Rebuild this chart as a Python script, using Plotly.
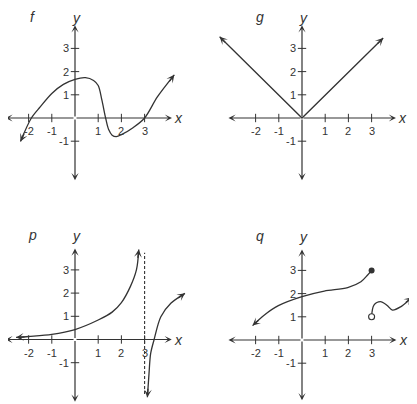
import math
import plotly.graph_objects as go

PAGE_W, PAGE_H = 417, 404
BODY = 8                      # default page margin around the figure div
W, H = PAGE_W - BODY, PAGE_H - BODY
UNIT = 23.2                   # pixels per data unit (both axes)
INK = "#333333"
FONT = "Liberation Sans, Arial, Helvetica, sans-serif"

# ---------------- data ----------------
f_x = [-2.35, -1.88, -1.5, -1.0, -0.5, 0.0, 0.45, 0.8, 1.0, 1.16, 1.32, 1.45, 1.6, 1.78, 2.0, 2.5, 3.0, 3.55, 4.28]
f_y = [-1.01, 0.0, 0.48, 1.06, 1.45, 1.67, 1.74, 1.62, 1.40, 0.77, 0.0, -0.5, -0.74, -0.8, -0.72, -0.42, 0.0, 0.91, 1.86]

g_x = [-3.55, 0.0, 3.5]
g_y = [3.5, 0.0, 3.45]

p_left_x = [-2.54, -2.0, -1.0, 0.0, 1.0, 1.6, 2.0, 2.39, 2.65, 2.75]
p_left_y = [0.09, 0.13, 0.22, 0.43, 0.84, 1.18, 1.59, 2.29, 3.01, 3.88]
p_right_x = [3.12, 3.19, 3.26, 3.41, 3.70, 4.13, 4.74]
p_right_y = [-2.49, -1.47, -0.61, 0.0, 0.98, 1.56, 1.99]
p_asym_x = [3.0, 3.0]
p_asym_y = [-2.35, 3.74]

q_left_x = [-2.13, -1.62, -1.02, 0.0, 0.96, 1.97, 2.54, 2.83, 3.0]
q_left_y = [0.62, 1.08, 1.48, 1.87, 2.11, 2.26, 2.51, 2.8, 3.0]
q_right_x = [3.0, 3.1, 3.38, 3.66, 3.9, 4.25, 4.74]
q_right_y = [1.0, 1.5, 1.65, 1.5, 1.29, 1.43, 1.84]
q_closed_x, q_closed_y = [3.0], [3.0]
q_open_x, q_open_y = [3.0], [1.0]

x_ticks = [-2, -1, 1, 2, 3]
x_tick_labels = ["-2", "-1", "1", "2", "3"]
y_ticks = [-1, 1, 2, 3]
y_tick_labels = ["-1", "1", "2", "3"]

panel_names = ["f", "g", "p", "q"]
# axis arrow extents (data units) per panel: x min, x max, y min, y max
axis_ext = [(-3.0, 4.18, -2.68, 4.0),
            (-3.17, 4.05, -2.68, 4.0),
            (-3.0, 4.17, -2.68, 3.92),
            (-3.17, 4.07, -2.60, 3.90)]
# height of panel letter / y-axis name (data units)
title_y = [4.36, 4.36, 4.5, 4.5]

# ---------------- layout geometry (page pixels) ----------------
boxes = [(0, 207, 0, 200), (207, 417, 0, 200), (0, 207, 200, 404), (207, 417, 200, 404)]
origins = [(75, 118), (302, 118), (75, 339.5), (302, 340)]

fig = go.Figure()
annotations = []
layout = dict(width=W, height=H, margin=dict(l=0, r=0, t=0, b=0, pad=0),
              paper_bgcolor="white", plot_bgcolor="white", showlegend=False)


def arrow_ann(xr, yr, tip_x, tip_y, from_x, from_y, length=10):
    dx, dy = tip_x - from_x, tip_y - from_y
    n = math.hypot(dx, dy)
    return dict(xref=xr, yref=yr, x=tip_x, y=tip_y,
                ax=-dx / n * length, ay=dy / n * length,
                showarrow=True, arrowhead=3, arrowsize=1.0, arrowwidth=1.3,
                arrowcolor=INK, text="", standoff=0)


def data_arrow(xr, yr, tip_x, tip_y, tail_x, tail_y):
    return dict(xref=xr, yref=yr, x=tip_x, y=tip_y, axref=xr, ayref=yr,
                ax=tail_x, ay=tail_y, showarrow=True, arrowhead=3,
                arrowsize=1.0, arrowwidth=1.2, arrowcolor=INK, text="", standoff=0)


for i in range(4):
    sfx = "" if i == 0 else str(i + 1)
    xr, yr = "x" + sfx, "y" + sfx
    l, r, t, b = boxes[i]
    l, r = max(l - BODY, 0), min(r - BODY, W)
    t, b = max(t - BODY, 0), min(b - BODY, H)
    ox, oy = origins[i][0] - BODY, origins[i][1] - BODY
    layout["xaxis" + sfx] = dict(domain=[l / W, r / W], range=[(l - ox) / UNIT, (r - ox) / UNIT],
                                 visible=False, fixedrange=True, anchor=yr)
    layout["yaxis" + sfx] = dict(domain=[1 - b / H, 1 - t / H], range=[(oy - b) / UNIT, (oy - t) / UNIT],
                                 visible=False, fixedrange=True, anchor=xr)

    x0, x1, y0, y1 = axis_ext[i]
    for tx, ty in [(x1, 0), (x0, 0), (0, y1), (0, y0)]:
        annotations.append(data_arrow(xr, yr, tx, ty, 0, 0))

    fig.add_trace(go.Scatter(x=x_ticks, y=[0] * len(x_ticks), mode="markers", xaxis=xr, yaxis=yr,
                             marker=dict(symbol="line-ns", size=6, line=dict(width=1, color=INK)),
                             hoverinfo="skip"))
    fig.add_trace(go.Scatter(x=[0] * len(y_ticks), y=y_ticks, mode="markers", xaxis=xr, yaxis=yr,
                             marker=dict(symbol="line-ew", size=6, line=dict(width=1, color=INK)),
                             hoverinfo="skip"))
    for v, s in zip(x_ticks, x_tick_labels):
        annotations.append(dict(xref=xr, yref=yr, x=v, y=0, text=s, showarrow=False,
                                yanchor="top", yshift=-5, font=dict(family=FONT, size=11, color=INK)))
    for v, s in zip(y_ticks, y_tick_labels):
        annotations.append(dict(xref=xr, yref=yr, x=0, y=v, text=s, showarrow=False,
                                xanchor="right", xshift=-4, font=dict(family=FONT, size=11, color=INK)))
    annotations.append(dict(xref=xr, yref=yr, x=x1 + 0.3, y=0, text="<i>x</i>",
                            showarrow=False, font=dict(family=FONT, size=14, color=INK)))
    annotations.append(dict(xref=xr, yref=yr, x=0.08, y=title_y[i] - 0.05, text="<i>y</i>",
                            showarrow=False, borderpad=0,
                            font=dict(family=FONT, size=14, color=INK)))
    annotations.append(dict(xref=xr, yref=yr, x=-1.82, y=title_y[i], text="<i>" + panel_names[i] + "</i>",
                            showarrow=False, borderpad=0,
                            font=dict(family=FONT, size=14, color=INK)))


def curve(xs, ys, xr, yr, start_arrow=True, end_arrow=True):
    fig.add_trace(go.Scatter(x=xs, y=ys, mode="lines", xaxis=xr, yaxis=yr,
                             line=dict(color=INK, width=1.3, shape="spline", smoothing=0.9),
                             hoverinfo="skip"))
    if start_arrow:
        annotations.append(arrow_ann(xr, yr, xs[0], ys[0], xs[1], ys[1]))
    if end_arrow:
        annotations.append(arrow_ann(xr, yr, xs[-1], ys[-1], xs[-2], ys[-2]))


curve(f_x, f_y, "x", "y")
fig.add_trace(go.Scatter(x=g_x, y=g_y, mode="lines", xaxis="x2", yaxis="y2",
                         line=dict(color=INK, width=1.3), hoverinfo="skip"))
annotations.append(arrow_ann("x2", "y2", g_x[0], g_y[0], g_x[1], g_y[1]))
annotations.append(arrow_ann("x2", "y2", g_x[-1], g_y[-1], g_x[-2], g_y[-2]))
curve(p_left_x, p_left_y, "x3", "y3")
curve(p_right_x, p_right_y, "x3", "y3")
fig.add_trace(go.Scatter(x=p_asym_x, y=p_asym_y, mode="lines", xaxis="x3", yaxis="y3",
                         line=dict(color=INK, width=1.1, dash="3px,2px"), hoverinfo="skip"))
curve(q_left_x, q_left_y, "x4", "y4", start_arrow=True, end_arrow=False)
curve(q_right_x, q_right_y, "x4", "y4", start_arrow=False, end_arrow=True)
fig.add_trace(go.Scatter(x=q_closed_x, y=q_closed_y, mode="markers", xaxis="x4", yaxis="y4",
                         marker=dict(size=6, color=INK, line=dict(width=0)), hoverinfo="skip"))
fig.add_trace(go.Scatter(x=q_open_x, y=q_open_y, mode="markers", xaxis="x4", yaxis="y4",
                         marker=dict(size=6, color="white", line=dict(width=1.1, color=INK)),
                         hoverinfo="skip"))

layout["annotations"] = annotations
fig.update_layout(**layout)
fig.write_html("out.html")
